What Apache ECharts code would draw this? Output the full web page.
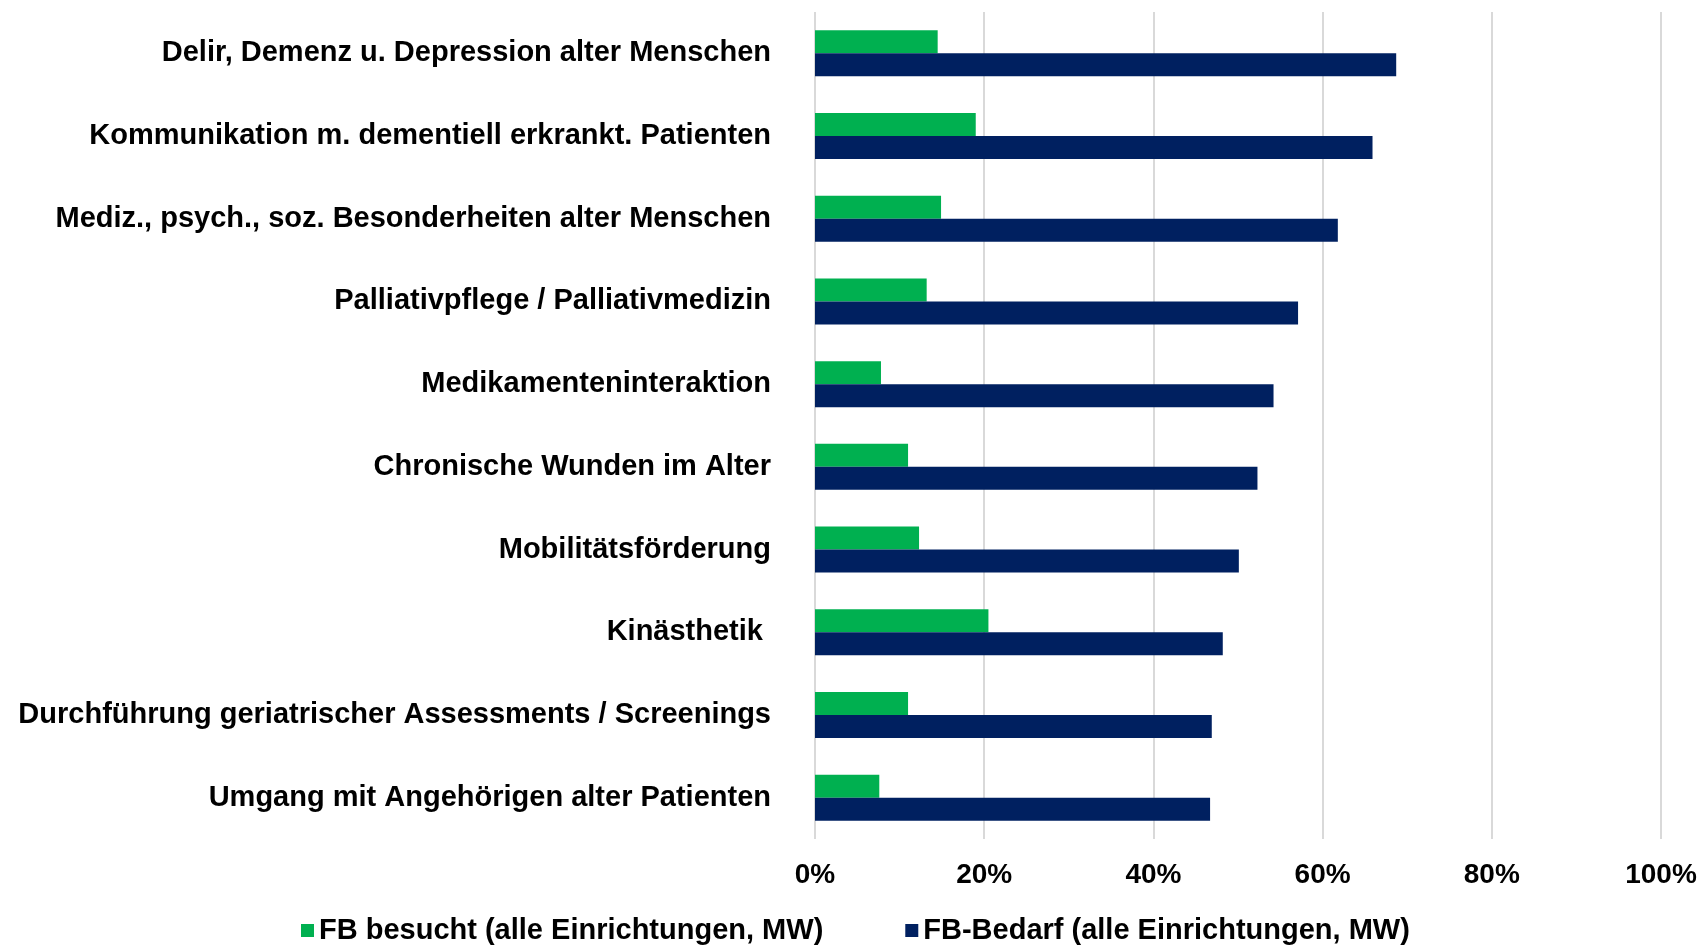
<!DOCTYPE html>
<html>
<head>
<meta charset="utf-8">
<script src="https://cdn.jsdelivr.net/npm/echarts@6/dist/echarts.min.js"></script>
<style>
  html, body { margin: 0; padding: 0; background: #fff; }
  #chart { width: 1700px; height: 949px; }
</style>
</head>
<body>
<div id="chart"></div>
<script>
// Kategorien (von oben nach unten)
var categories = [
  'Delir, Demenz u. Depression alter Menschen',
  'Kommunikation m. dementiell erkrankt. Patienten',
  'Mediz., psych., soz. Besonderheiten alter Menschen',
  'Palliativpflege / Palliativmedizin',
  'Medikamenteninteraktion',
  'Chronische Wunden im Alter',
  'Mobilitätsförderung',
  'Kinästhetik ',
  'Durchführung geriatrischer Assessments / Screenings',
  'Umgang mit Angehörigen alter Patienten'
];
var besucht = [14.5, 19.0, 14.9, 13.2, 7.8, 11.0, 12.3, 20.5, 11.0, 7.6];
var bedarf = [68.7, 65.9, 61.8, 57.1, 54.2, 52.3, 50.1, 48.2, 46.9, 46.7];
var seriesNames = ['FB besucht (alle Einrichtungen, MW)', 'FB-Bedarf (alle Einrichtungen, MW)'];

var font = '"Liberation Sans", Arial, sans-serif';
var myChart = echarts.init(document.getElementById('chart'));

var option = {
  animation: false,
  grid: { left: 815, right: 39, top: 12, bottom: 110 },
  legend: {
    top: 916,
    left: 301,
    padding: 0,
    itemWidth: 13,
    itemHeight: 13,
    itemGap: 82,
    icon: 'rect',
    selectedMode: false,
    textStyle: { color: '#000', fontSize: 29, fontWeight: 'bold', fontFamily: font },
    data: seriesNames
  },
  xAxis: {
    type: 'value',
    min: 0,
    max: 100,
    interval: 20,
    axisLine: { show: false },
    axisTick: { show: false },
    splitLine: { lineStyle: { color: '#d9d9d9', width: 2 } },
    axisLabel: {
      formatter: '{value}%',
      margin: 22,
      color: '#000', fontSize: 28, fontWeight: 'bold', fontFamily: font
    }
  },
  yAxis: {
    type: 'category',
    inverse: true,
    data: categories,
    axisLine: { show: false },
    axisTick: { show: false },
    axisLabel: {
      margin: 44,
      color: '#000', fontSize: 29, fontWeight: 'bold', fontFamily: font
    }
  },
  series: [
    {
      name: seriesNames[0],
      type: 'bar',
      data: besucht,
      barWidth: 23,
      barGap: '0%',
      barCategoryGap: '44%',
      itemStyle: { color: '#00B050' }
    },
    {
      name: seriesNames[1],
      type: 'bar',
      data: bedarf,
      barWidth: 23,
      barGap: '0%',
      itemStyle: { color: '#002060' }
    }
  ]
};
myChart.setOption(option);
</script>
</body>
</html>
